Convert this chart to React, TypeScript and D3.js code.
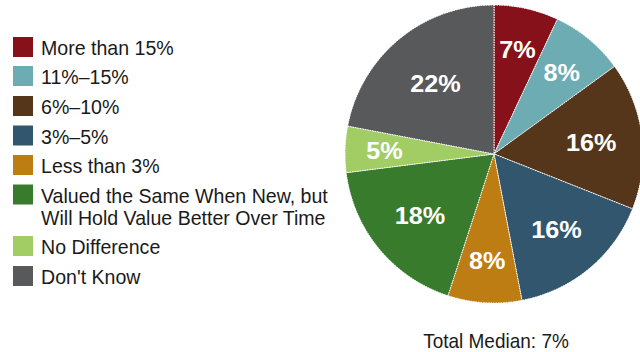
import React from "react";
import * as d3 from "d3";

const categories = [
  "More than 15%",
  "11%–15%",
  "6%–10%",
  "3%–5%",
  "Less than 3%",
  "Valued the Same When New, but|Will Hold Value Better Over Time",
  "No Difference",
  "Don't Know",
];
const values = [7, 8, 16, 16, 8, 18, 5, 22];
const colors = ["#86111a", "#6eacb4", "#55361b", "#33566f", "#bd7d13", "#387b2d", "#a2cd64", "#58595b"];
const footerText = "Total Median: 7%";

const W = 640;
const H = 352;
const cx = 494;
const cy = 154;
const R = 149;

export default function App() {
  const items = categories.map((c, i) => ({ c, v: values[i], color: colors[i] }));
  const pie = d3.pie<any>().value((d) => d.v).sort(null).startAngle(0).endAngle(2 * Math.PI);
  const arcs = pie(items);
  const arcGen = d3.arc<any>().innerRadius(0).outerRadius(R);

  const legendTops = [37, 66, 96, 125.5, 155, 184.5, 236, 266];
  const font = "'Liberation Sans', Arial, sans-serif";

  return (
    <svg width={W} height={H} style={{ position: "absolute", left: 0, top: 0, background: "#fff" }}>
      <g transform={`translate(${cx},${cy})`}>
        {arcs.map((a, i) => (
          <path key={i} d={arcGen(a) || ""} fill={a.data.color} stroke="#fff" strokeWidth={1} strokeDasharray="1.5,1" />
        ))}
        {arcs.map((a, i) => {
          const mid = (a.startAngle + a.endAngle) / 2;
          const lr = R * (0.77 - 0.007 * a.data.v);
          const x = Math.sin(mid) * lr;
          const y = -Math.cos(mid) * lr;
          return (
            <text
              key={"t" + i}
              transform={`translate(${x},${y}) scale(1.03,1)`}
              dy="0.36em"
              textAnchor="middle"
              fill="#fff"
              fontFamily={font}
              fontWeight="bold"
              fontSize={24.5}
            >
              {a.data.v}%
            </text>
          );
        })}
      </g>
      <g>
        {items.map((d, i) => {
          const top = legendTops[i];
          const lines = d.c.split("|");
          return (
            <g key={"l" + i}>
              <rect x={13} y={top} width={20} height={20} fill={d.color} />
              {lines.map((ln, j) => (
                <text
                  key={j}
                  transform={`translate(41,${top + 18 + j * 22}) scale(0.955,1)`}
                  fontFamily={font}
                  fontSize={20.5}
                  fill="#1a1a1a"
                >
                  {ln}
                </text>
              ))}
            </g>
          );
        })}
      </g>
      <text
        transform={`translate(496,348) scale(0.95,1)`}
        textAnchor="middle"
        fontFamily={font}
        fontSize={20}
        fill="#1a1a1a"
      >
        {footerText}
      </text>
    </svg>
  );
}
